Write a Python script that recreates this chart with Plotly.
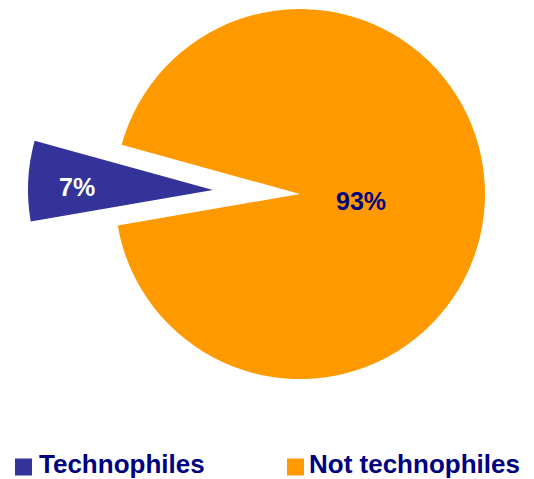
import plotly.graph_objects as go

# Share of respondents by attitude to technology
labels = ["Technophiles", "Not technophiles"]
shares = [7, 93]
slice_colors = ["#333399", "#FF9900"]
text_colors = ["#FFFFFF", "#000080"]

W, H = 534, 479
R = 185                      # pie radius in px
body_center = (300, 194)     # centre of the main pie
pulled_center = (213, 190)   # centre of the exploded slice
START = -99.8                # angle where the first slice begins
FONT = "Liberation Sans, Arial, sans-serif"
CLEAR = "rgba(0,0,0,0)"

# where each percentage label sits (px from top-left)
value_label_pos = [(77, 186.5), (360.5, 200.5)]


def domain(cx, cy):
    return dict(x=[(cx - R) / W, (cx + R) / W],
                y=[1 - (cy + R) / H, 1 - (cy - R) / H])


def pie_layer(center, visible_idx):
    """One pie drawn from the full data, showing only the chosen slice."""
    colors = [c if i == visible_idx else CLEAR for i, c in enumerate(slice_colors)]
    return go.Pie(
        labels=labels,
        values=shares,
        sort=False,
        direction="clockwise",
        rotation=START,
        domain=domain(*center),
        marker=dict(colors=colors, line=dict(width=0)),
        textinfo="none",
        hoverinfo="skip",
        showlegend=False,
    )


fig = go.Figure([
    pie_layer(body_center, 1),
    pie_layer(pulled_center, 0),
])

notes, shapes = [], []

# Percentage labels on the slices
for v, col, (px, py) in zip(shares, text_colors, value_label_pos):
    notes.append(dict(
        text=f"<b>{v}%</b>", xref="paper", yref="paper",
        x=px / W, y=1 - py / H, xanchor="center", yanchor="middle",
        showarrow=False, font=dict(family=FONT, size=25, color=col),
    ))

# Legend row along the bottom
legend_box_x = [15, 287]
legend_text_x = [37, 307]
legend_y = 467
text_y = 463.5
box = 17
for lab, col, bx, tx in zip(labels, slice_colors, legend_box_x, legend_text_x):
    shapes.append(dict(
        type="rect", xref="paper", yref="paper",
        x0=bx / W, x1=(bx + box) / W,
        y0=1 - (legend_y + box / 2) / H, y1=1 - (legend_y - box / 2) / H,
        fillcolor=col, line=dict(width=0),
    ))
    notes.append(dict(
        text=f"<b>{lab}</b>", xref="paper", yref="paper",
        x=tx / W, y=1 - text_y / H,
        xanchor="left", yanchor="middle", showarrow=False,
        font=dict(family=FONT, size=26, color="#000080"),
    ))

fig.update_layout(
    width=W, height=H,
    margin=dict(l=0, r=0, t=0, b=0),
    paper_bgcolor="white", plot_bgcolor="white",
    shapes=shapes, annotations=notes,
    font=dict(family=FONT),
)

fig.write_html("out.html")
